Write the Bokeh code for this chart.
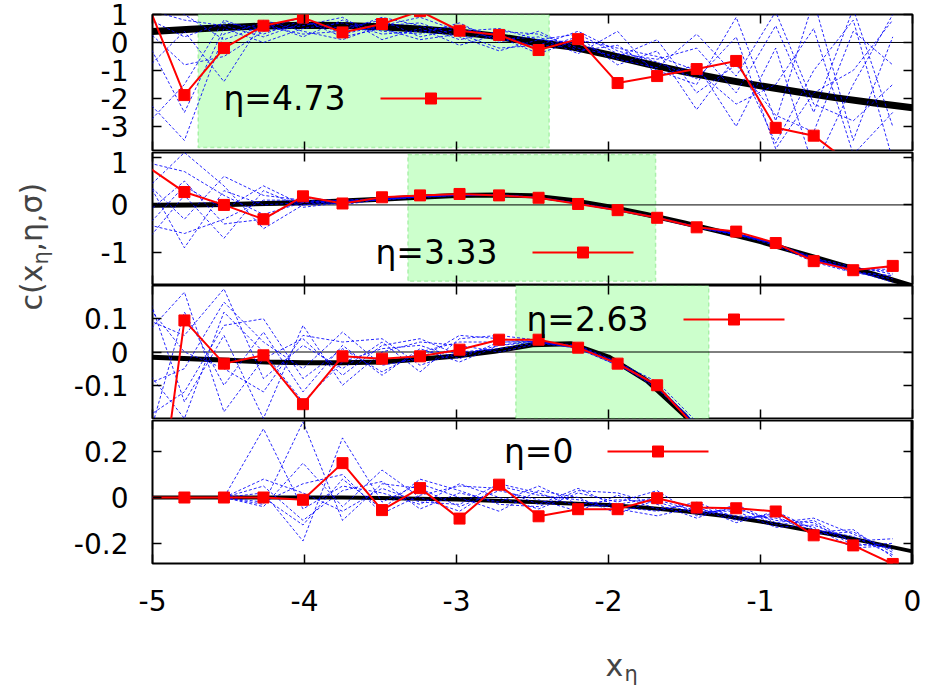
from math import pi
from bokeh.plotting import figure
from bokeh.models import (Range1d, LinearAxis, FixedTicker, Span, BoxAnnotation, Label,
                          CustomJSTickFormatter, CustomLabelingPolicy)
from bokeh.layouts import row, column
from bokeh.embed import file_html
from bokeh.resources import INLINE

# ---------------- data ----------------
x_pts = [-5.05, -4.79, -4.53, -4.27, -4.01, -3.75, -3.49, -3.24, -2.98, -2.72,
         -2.46, -2.20, -1.94, -1.68, -1.42, -1.16, -0.90, -0.65, -0.39, -0.13]
x_theory = [-5.05, -4.75, -4.5, -4.25, -4.0, -3.75, -3.5, -3.25, -3.0, -2.75, -2.5,
            -2.25, -2.0, -1.75, -1.5, -1.25, -1.0, -0.75, -0.5, -0.25, 0.0]
x_theory_p4 = x_theory + [0.0, 0.0]

eta_labels = ["η=4.73", "η=3.33", "η=2.63", "η=0"]

red_p1 = [1.63, -1.88, -0.20, 0.60, 0.89, 0.36, 0.66, 1.12, 0.42, 0.27,
          -0.27, 0.12, -1.45, -1.20, -0.95, -0.66, -3.05, -3.33, -4.40, -4.80]
red_p2 = [0.84, 0.27, 0.00, -0.30, 0.18, 0.03, 0.16, 0.20, 0.23, 0.20,
          0.15, 0.02, -0.11, -0.27, -0.47, -0.56, -0.80, -1.18, -1.37, -1.28]
red_p3 = [-0.79, 0.095, -0.035, -0.01, -0.157, -0.013, -0.02, -0.013, 0.007, 0.037,
          0.037, 0.013, -0.035, -0.10, -0.23, -0.40, -0.65, -1.00, -1.50, -2.20]
red_p4 = [0.0, 0.0, 0.0, 0.0, -0.01, 0.15, -0.055, 0.041, -0.092, 0.056,
          -0.082, -0.051, -0.051, -0.003, -0.044, -0.047, -0.061, -0.165, -0.209, -0.29]

black_p1 = [0.38, 0.47, 0.54, 0.59, 0.62, 0.61, 0.56, 0.48, 0.38, 0.23, 0.02,
            -0.15, -0.44, -0.76, -1.05, -1.31, -1.55, -1.77, -1.98, -2.16, -2.33]
black_p2 = [-0.01, 0.0, 0.01, 0.03, 0.05, 0.08, 0.12, 0.16, 0.20, 0.21, 0.19,
            0.10, -0.04, -0.20, -0.38, -0.57, -0.77, -1.00, -1.23, -1.46, -1.70]
black_p3 = [-0.015, -0.02, -0.025, -0.03, -0.032, -0.032, -0.03, -0.022, -0.012, 0.002, 0.022,
            0.025, -0.015, -0.085, -0.19, -0.33, -0.55, -0.85, -1.25, -1.75, -2.40]
black_p4 = [0.0, 0.0, 0.0, 0.0, 0.0, 0.0, -0.002, -0.005, -0.009, -0.014, -0.02,
            -0.026, -0.033, -0.045, -0.06, -0.08, -0.105, -0.135, -0.165, -0.20, -0.235,
            0.40, -0.40]

blue_p1 = [
    [0.9, 0.2, 0.7, 0.5, 0.9, 0.3, 0.6, 0.9, 0.4, 0.5, 0.1, 0.3, -0.4, -0.6, -0.2, -1.8, 0.6, -2.5, 1.2, -3.0],
    [-2.0, -3.5, 0.3, 0.7, 0.2, 0.8, 0.4, 0.3, 0.7, 0.0, 0.4, -0.3, -0.1, -1.0, -1.5, 0.9, -2.8, 1.5, -3.5, 0.2],
    [0.5, -0.8, -0.5, 0.4, 0.6, 0.9, 0.1, 0.5, -0.1, 0.3, -0.2, 0.2, -0.8, -0.3, -2.4, -0.5, -3.6, -1.0, 0.8, -4.2],
    [1.2, 0.8, 0.6, 0.2, 0.7, 0.5, 0.8, 0.2, 0.5, 0.1, 0.2, -0.4, 0.4, -1.2, -0.8, -3.0, -0.2, -4.5, -1.5, 1.0],
    [-1.0, 0.4, -1.4, 0.8, 0.4, 0.1, 0.6, 0.7, 0.2, -0.3, 0.1, 0.0, -0.6, -0.9, 0.3, -1.2, 1.1, -2.2, -2.8, -1.5],
    [0.2, -2.5, 0.5, 0.0, 0.5, 0.7, 0.3, 0.4, 0.6, 0.2, -0.4, 0.1, -0.2, -0.5, -1.0, -2.2, -1.5, 0.5, -4.0, -2.5],
    [1.5, 1.0, 0.1, 0.6, 0.3, 0.4, 0.9, 0.6, 0.1, 0.4, 0.3, -0.2, -0.5, 0.1, -1.8, -0.8, -2.6, -3.2, 0.4, -0.8],
    [-3.0, -1.5, 0.8, 0.3, 0.8, 0.2, 0.5, 0.1, 0.3, -0.2, -0.1, 0.4, -0.3, -0.7, -1.3, 0.2, -3.8, -1.8, -1.0, 0.8],
]
blue_p2 = [
    [0.9, 0.7, 0.2, -0.2, 0.05, 0.08, 0.12, 0.17, 0.21, 0.2, 0.16, 0.03, -0.11, -0.26, -0.45, -0.60, -0.82, -1.12, -1.30, -1.45],
    [-0.4, -0.6, -0.3, 0.1, 0.1, 0.05, 0.15, 0.2, 0.22, 0.21, 0.14, 0.04, -0.10, -0.28, -0.48, -0.62, -0.85, -1.20, -1.42, -1.55],
    [0.3, 1.1, 0.4, -0.5, 0.0, 0.1, 0.1, 0.18, 0.2, 0.22, 0.15, 0.02, -0.12, -0.27, -0.47, -0.63, -0.80, -1.15, -1.35, -1.35],
    [-0.8, 0.2, -0.7, 0.3, -0.05, 0.05, 0.14, 0.16, 0.21, 0.2, 0.15, 0.03, -0.11, -0.27, -0.46, -0.60, -0.83, -1.10, -1.40, -1.50],
    [0.5, -0.3, 0.6, 0.2, 0.1, 0.0, 0.12, 0.18, 0.2, 0.21, 0.16, 0.02, -0.10, -0.26, -0.46, -0.61, -0.81, -1.18, -1.33, -1.40],
    [-0.2, 0.5, -0.4, -0.3, 0.15, 0.08, 0.1, 0.17, 0.22, 0.2, 0.15, 0.03, -0.11, -0.28, -0.47, -0.60, -0.82, -1.14, -1.38, -1.62],
    [0.6, -0.9, 0.3, 0.0, 0.05, 0.1, 0.13, 0.17, 0.21, 0.21, 0.15, 0.02, -0.12, -0.27, -0.46, -0.62, -0.80, -1.16, -1.36, -1.30],
    [-0.5, 0.4, -0.1, 0.4, 0.0, 0.06, 0.12, 0.16, 0.2, 0.2, 0.16, 0.03, -0.11, -0.27, -0.47, -0.61, -0.83, -1.13, -1.42, -1.48],
]
blue_p3 = [
    [0.1, 0.05, 0.19, -0.08, 0.02, -0.05, 0.03, -0.06, 0.04, 0.05, 0.035, 0.015, -0.03, -0.10, -0.22, -0.40, -0.65, -1.0, -1.5, -2.2],
    [-0.3, 0.12, -0.1, 0.06, -0.12, 0.02, -0.07, 0.01, -0.03, 0.02, 0.03, 0.01, -0.04, -0.10, -0.23, -0.40, -0.66, -1.0, -1.5, -2.2],
    [0.2, -0.15, 0.05, -0.2, 0.08, -0.1, 0.0, 0.03, 0.02, 0.0, 0.025, 0.015, -0.035, -0.11, -0.22, -0.41, -0.65, -1.0, -1.5, -2.2],
    [-0.1, -0.05, 0.15, 0.03, -0.05, 0.06, -0.04, -0.02, 0.05, 0.04, 0.03, 0.02, -0.03, -0.09, -0.21, -0.39, -0.64, -1.0, -1.5, -2.2],
    [0.05, 0.18, -0.18, -0.02, 0.04, -0.07, 0.02, 0.04, -0.01, 0.02, 0.035, 0.01, -0.04, -0.10, -0.22, -0.40, -0.65, -1.0, -1.5, -2.2],
    [-0.2, -0.12, 0.08, 0.1, -0.08, 0.01, -0.06, 0.0, 0.03, 0.03, 0.03, 0.012, -0.032, -0.10, -0.22, -0.40, -0.65, -1.0, -1.5, -2.2],
    [0.15, 0.0, -0.05, -0.12, 0.05, 0.03, 0.04, -0.04, 0.0, 0.01, 0.028, 0.018, -0.036, -0.105, -0.23, -0.40, -0.65, -1.0, -1.5, -2.2],
    [-0.05, -0.2, 0.12, 0.0, -0.15, -0.03, 0.01, 0.02, -0.02, 0.03, 0.032, 0.014, -0.034, -0.098, -0.22, -0.40, -0.65, -1.0, -1.5, -2.2],
]
blue_p4 = [
    [0, 0, 0, 0.30, -0.05, 0.05, 0.02, -0.03, 0.06, 0.0, -0.05, 0.02, -0.02, 0.03, -0.08, -0.04, -0.12, -0.10, -0.20, -0.22],
    [0, 0, 0, -0.03, 0.33, -0.10, 0.06, 0.04, -0.04, 0.03, -0.01, -0.06, 0.01, -0.05, -0.03, -0.10, -0.07, -0.15, -0.14, -0.26],
    [0, 0, 0, 0.02, -0.19, 0.26, -0.02, 0.06, 0.0, -0.06, 0.03, 0.0, -0.07, -0.01, -0.06, -0.06, -0.13, -0.12, -0.19, -0.18],
    [0, 0, 0, -0.02, 0.06, 0.10, -0.07, 0.01, 0.05, 0.04, -0.03, 0.04, -0.04, -0.06, -0.02, -0.09, -0.08, -0.16, -0.15, -0.24],
    [0, 0, 0, 0.05, -0.10, 0.03, 0.07, -0.05, 0.02, -0.02, 0.05, -0.03, -0.01, -0.02, -0.07, -0.05, -0.10, -0.11, -0.21, -0.20],
    [0, 0, 0, -0.04, 0.15, -0.04, 0.12, 0.0, -0.06, 0.05, 0.01, -0.01, -0.05, -0.08, -0.04, -0.11, -0.06, -0.14, -0.17, -0.25],
    [0, 0, 0, 0.0, -0.12, 0.08, -0.05, 0.08, 0.03, -0.03, -0.04, 0.03, 0.02, -0.03, -0.09, -0.03, -0.11, -0.09, -0.16, -0.23],
    [0, 0, 0, 0.08, 0.02, -0.06, 0.04, -0.02, -0.03, 0.06, 0.02, -0.04, -0.03, 0.0, -0.05, -0.08, -0.09, -0.13, -0.22, -0.21],
]

# shaded fit windows: left, right, bottom, top (None = to the frame edge); panel 4 has none
green_left = [-4.70, -3.32, -2.61]
green_right = [-2.39, -1.69, -1.34]
green_bottom = [-3.75, -1.60, None]
green_top = [None, 1.06, None]

x_ticks = [-5, -4, -3, -2, -1, 0]
y_ticks = [[-3, -2, -1, 0, 1], [-1, 0, 1], [-0.1, 0, 0.1], [-0.2, 0, 0.2]]
y_ranges = [(-3.86, 1.0), (-1.67, 1.1), (-0.2, 0.2), (-0.288, 0.336)]

# ---------------- styling / layout ----------------
FONT = "DejaVu Sans"
LEFT_W = 60
PW = 931 - LEFT_W
FRAME_W = 760
heights = [151, 134, 134, 208]
frame_h = [136, 132, 133, 143]
b_top = [14, 1, 0, 1]
b_bot = [1, 1, 1, 64]
black_w = [7, 5, 5, 4]
# key: text right edge and sample start/end (px from frame left), centre height (px from frame bottom)
leg_text_x = [193, 345, 496, 421]
leg_y = [52, 32, 99, 112]
leg_sample_x0 = [228, 380, 531, 455]
LEG_SAMPLE_W = 101

fmt = CustomJSTickFormatter(code="return String(tick);")


def make_axis(ticks, labels):
    ax = LinearAxis(ticker=FixedTicker(ticks=ticks, minor_ticks=[]), formatter=fmt)
    ax.major_tick_in = 9
    ax.major_tick_out = 0
    ax.major_tick_line_color = "black"
    ax.major_tick_line_width = 1.5
    ax.minor_tick_line_color = None
    ax.axis_line_color = None
    if labels:
        ax.major_label_text_font = FONT
        ax.major_label_text_font_size = "28px"
        ax.major_label_text_color = "black"
    else:
        # mirror axis: tick marks only, no labels drawn
        ax.major_label_policy = CustomLabelingPolicy(code="return [];")
        ax.major_label_text_font_size = "0px"
        ax.major_label_standoff = 0
    return ax


panels = []
reds = [red_p1, red_p2, red_p3, red_p4]
blacks = [black_p1, black_p2, black_p3, black_p4]
blacks_x = [x_theory, x_theory, x_theory, x_theory_p4]
blues = [blue_p1, blue_p2, blue_p3, blue_p4]

for i in range(4):
    lo, hi = y_ranges[i]
    p = figure(width=PW, height=heights[i], x_range=Range1d(-5, 0),
               y_range=Range1d(lo, hi), x_axis_type=None, y_axis_type=None,
               toolbar_location=None, output_backend="svg",
               min_border_left=152 - LEFT_W, min_border_right=19,
               min_border_top=b_top[i], min_border_bottom=b_bot[i],
               outline_line_color="black", outline_line_width=2,
               background_fill_color="white", border_fill_color="white")
    bottom = make_axis(x_ticks, i == 3)
    if i == 3:
        bottom.major_label_standoff = 26
    p.add_layout(bottom, "below")
    p.add_layout(make_axis(x_ticks, False), "above")
    left = make_axis(y_ticks[i], True)
    left.major_label_standoff = 24
    p.add_layout(left, "left")
    p.add_layout(make_axis(y_ticks[i], False), "right")

    if i < len(green_left):
        p.add_layout(BoxAnnotation(left=green_left[i], right=green_right[i],
                                   bottom=green_bottom[i], top=green_top[i],
                                   fill_color="#ccffcc", fill_alpha=1.0,
                                   line_color="#33cc33", line_dash="4 3", line_width=1.5,
                                   level="underlay"))
    p.add_layout(Span(location=0, dimension="width", line_color="black",
                      line_width=1, level="underlay"))

    p.line(blacks_x[i], blacks[i], line_color="black", line_width=black_w[i],
           line_join="round")
    p.multi_line([x_pts] * len(blues[i]), blues[i], line_color="#0000ff",
                 line_width=1, line_dash="3 2", line_alpha=0.85)
    p.line(x_pts, reds[i], line_color="#ff0000", line_width=2)
    p.scatter(x_pts, reds[i], marker="square", size=11,
              fill_color="#ff0000", line_color="#ff0000")

    # key sample (line with centred square), positioned in frame pixels
    to_x = lambda px: -5 + 5 * px / FRAME_W
    to_y = lambda py: lo + (hi - lo) * py / frame_h[i]
    kx0 = to_x(leg_sample_x0[i])
    kx1 = to_x(leg_sample_x0[i] + LEG_SAMPLE_W)
    ky = to_y(leg_y[i])
    p.line([kx0, kx1], [ky, ky], line_color="#ff0000", line_width=2)
    p.scatter([(kx0 + kx1) / 2], [ky], marker="square", size=11,
              fill_color="#ff0000", line_color="#ff0000")
    p.add_layout(Label(x=leg_text_x[i], y=leg_y[i], x_units="screen", y_units="screen",
                       text=eta_labels[i], text_font=FONT, text_font_size="33px",
                       text_align="right", text_baseline="middle", text_color="black"))
    panels.append(p)

# x-axis title  x_η (own strip below the panels)
xlab = figure(width=PW, height=60, x_range=Range1d(0, PW), y_range=Range1d(0, 60),
              x_axis_type=None, y_axis_type=None, toolbar_location=None,
              output_backend="svg", min_border=0, outline_line_color=None)
xlab.add_layout(Label(x=453, y=22, x_units="screen", y_units="screen", text="x",
                      text_font=FONT, text_font_size="30px", text_align="left",
                      text_baseline="alphabetic"))
xlab.add_layout(Label(x=472, y=14, x_units="screen", y_units="screen", text="η",
                      text_font=FONT, text_font_size="21px", text_align="left",
                      text_baseline="alphabetic"))

# y-axis title  c(x_η,η,σ) (own strip left of the panels)
lab = figure(width=LEFT_W, height=687, x_range=Range1d(0, LEFT_W), y_range=Range1d(0, 687),
             x_axis_type=None, y_axis_type=None, toolbar_location=None,
             output_backend="svg", min_border=0, outline_line_color=None)
lab.add_layout(Label(x=31, y=377, x_units="screen", y_units="screen", text="c(x",
                     angle=pi / 2, text_font=FONT, text_font_size="30px",
                     text_align="left", text_baseline="middle"))
lab.add_layout(Label(x=40, y=423, x_units="screen", y_units="screen", text="η",
                     angle=pi / 2, text_font=FONT, text_font_size="21px",
                     text_align="left", text_baseline="middle"))
lab.add_layout(Label(x=31, y=436, x_units="screen", y_units="screen", text=",η,σ)",
                     angle=pi / 2, text_font=FONT, text_font_size="30px",
                     text_align="left", text_baseline="middle"))

layout = row(lab, column(*panels, xlab, spacing=0), spacing=0)
open("out.html", "w").write(file_html(layout, INLINE))
